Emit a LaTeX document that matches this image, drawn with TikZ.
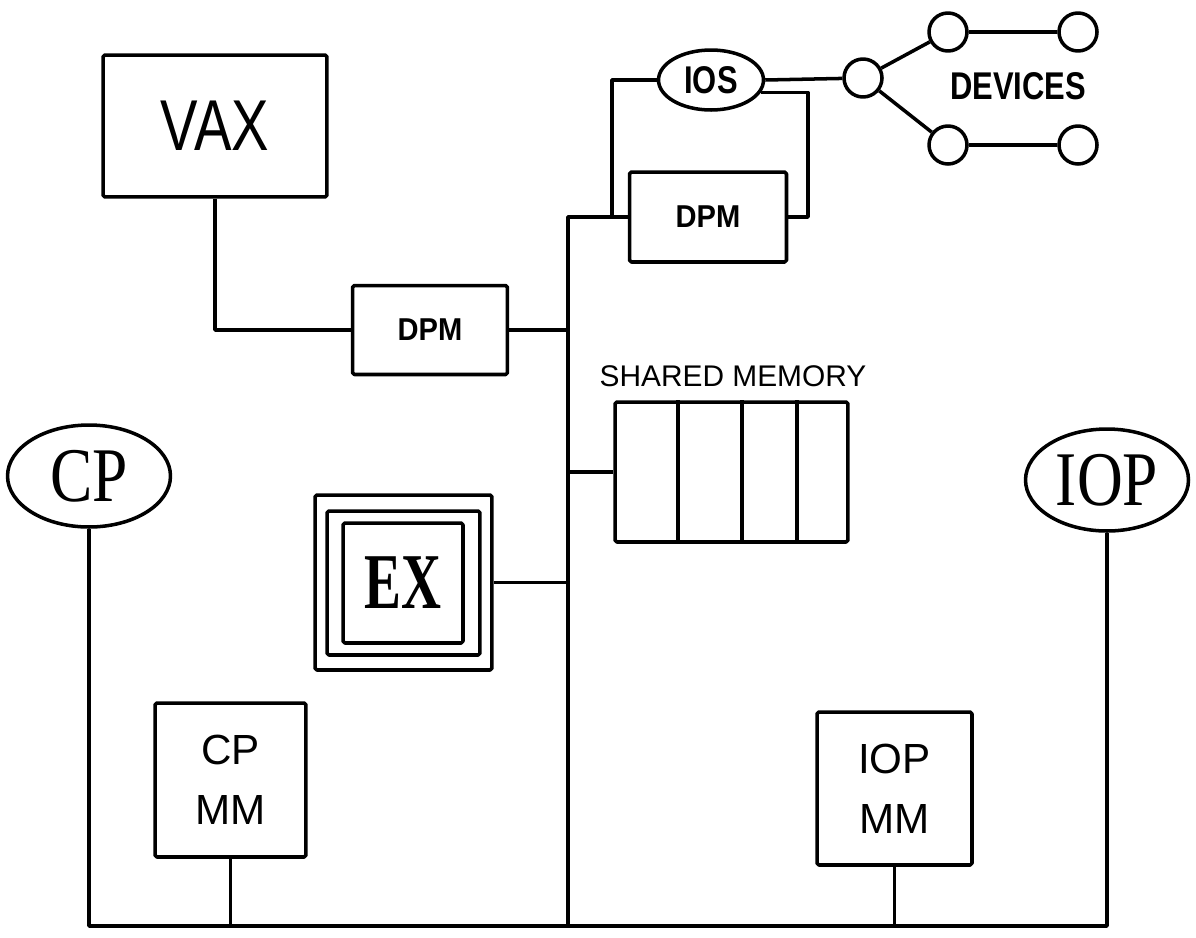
\documentclass[tikz,border=0pt]{standalone}
\usepackage{fontspec}
\usetikzlibrary{shapes.geometric,positioning,calc}
\newfontfamily\hel{Liberation Sans}
\newfontfamily\helnarrow[FakeStretch=0.78]{Liberation Sans}
\newfontfamily\helcond[FakeStretch=0.8]{Liberation Sans}
\newfontfamily\heldpm[FakeStretch=0.92]{Liberation Sans}
\newfontfamily\tms[FakeStretch=0.82]{Liberation Serif}
\newfontfamily\tmsex[FakeStretch=0.7]{Liberation Serif}

\begin{document}
\begin{tikzpicture}[x=0.02cm,y=-0.02cm,line width=2pt,line join=round,
  box/.style={draw,rectangle,inner sep=0pt,rounded corners=1pt},
  oval/.style={draw,ellipse,inner sep=0pt,minimum width=3.26cm,minimum height=2.04cm,
    font=\tms\fontsize{44}{46}\selectfont},
  dev/.style={draw,circle,minimum size=0.76cm,inner sep=0pt},
  lbl/.style={font=\helcond\bfseries\fontsize{22}{24}\selectfont},
  dpm/.style={box,font=\heldpm\bfseries\fontsize{18}{20}\selectfont},
  mm/.style={box,align=center,font=\hel\fontsize{24}{34}\selectfont}]
  \useasboundingbox (0,0) rectangle (1196,937);
  % host side
  \node[box,minimum width=4.48cm,minimum height=2.84cm,
    font=\helnarrow\fontsize{41}{44}\selectfont] (vax) at (215,126) {VAX};
  \node[dpm,minimum width=3.1cm,minimum height=1.78cm] (dpmA) at (430,330) {DPM};
  \node[dpm,minimum width=3.14cm,minimum height=1.8cm] (dpmB) at (708,217) {DPM};
  \node[draw,ellipse,minimum width=2.1cm,minimum height=1.2cm,inner sep=0pt,lbl] (ios) at (711,80) {IOS};
  % devices
  \node[dev] (hub) at (863,78) {};
  \foreach \n/\x/\y in {ul/948/32,ur/1078/32,ll/948/145,lr/1078/145}
    \node[dev] (\n) at (\x,\y) {};
  \node[lbl] (devices) at (1018,86) {DEVICES};
  % shared memory, four banks
  \node[box,minimum width=4.66cm,minimum height=2.8cm] (shm) at (731.5,472) {};
  \node[font=\hel\fontsize{17}{19}\selectfont] (shmlbl) at (733,376) {SHARED MEMORY};
  \foreach \x in {678,742,797}
    \draw (\x,0 |- shm.north) -- (\x,0 |- shm.south);
  % executive, three nested frames
  \node[box,minimum width=3.54cm,minimum height=3.5cm] (exA) at (403.5,582.5) {};
  \node[box,minimum width=3.06cm,minimum height=2.88cm] (exB) at (403.5,583) {};
  \node[box,minimum width=2.4cm,minimum height=2.4cm,
    font=\tmsex\bfseries\fontsize{45}{47}\selectfont] (exC) at (403,583) {EX};
  % processors and their memories
  \node[oval] (cp) at (89,476) {CP};
  \node[oval] (iop) at (1107,480) {IOP};
  \node[mm,minimum width=3.02cm,minimum height=3.08cm] (cpmm) at (230.5,780) {CP\\MM};
  \node[mm,minimum width=3.1cm,minimum height=3.06cm] (iopmm) at (894.5,788.5) {IOP\\MM};
  % bus corners
  \coordinate (bus) at (568,926);
  \coordinate (iosL) at (612,217);
  \coordinate (iosR) at (808,217);
  % wiring
  \draw (vax.south) |- (dpmA.west);
  \draw (dpmA.east) -- (dpmA.east -| bus);
  \draw (dpmB.west) -| (bus);
  \draw (ios.west) -| (iosL);
  \draw (ios.-14) -| (iosR) -- (dpmB.east);
  \draw (ios.east) -- (hub);
  \draw (hub) -- (ul) -- (ur);
  \draw (hub) -- (ll) -- (lr);
  \draw (shm.west) -- (shm.west -| bus);
  \draw (exA.east) -- (exA.east -| bus);
  \draw (cp.south) |- (bus) -| (iop.south);
  \draw (cpmm.south) -- (cpmm.south |- bus);
  \draw (iopmm.south) -- (iopmm.south |- bus);
\end{tikzpicture}
\end{document}
